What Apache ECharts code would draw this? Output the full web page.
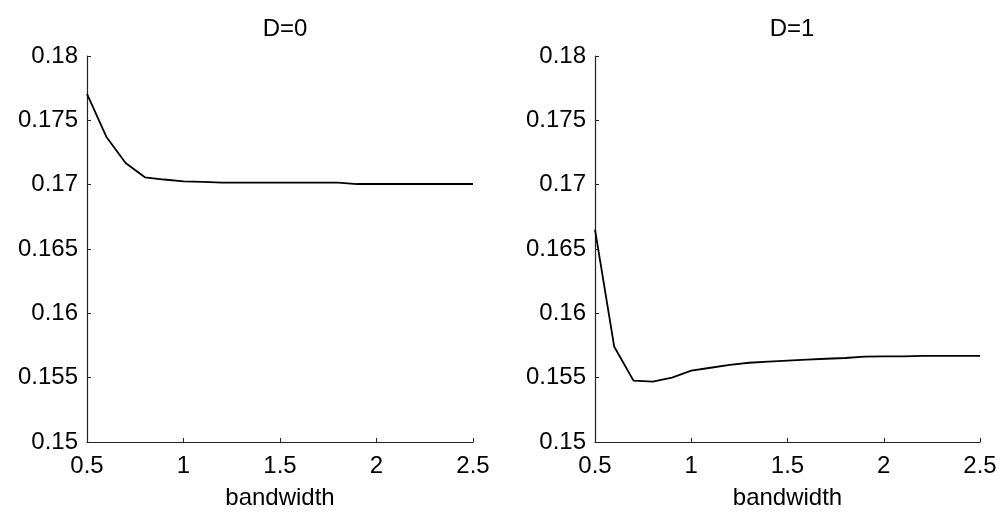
<!DOCTYPE html>
<html>
<head>
<meta charset="utf-8">
<script src="https://cdn.jsdelivr.net/npm/echarts@6/dist/echarts.min.js"></script>
<style>
  html, body { margin: 0; padding: 0; background: #fff; }
  #chart { width: 1002px; height: 512px; }
</style>
</head>
<body>
<div id="chart"></div>
<script>
// bandwidth values on the x axis
var bandwidth = [0.5, 0.6, 0.7, 0.8, 0.9, 1.0, 1.1, 1.2, 1.3, 1.4, 1.5, 1.6, 1.7, 1.8, 1.9, 2.0, 2.1, 2.2, 2.3, 2.4, 2.5];
var errD0 = [0.17705, 0.17373, 0.17169, 0.17057, 0.1704, 0.17026, 0.17021, 0.17016, 0.17016, 0.17016, 0.17016, 0.17016, 0.17016, 0.17016, 0.17005, 0.17005, 0.17005, 0.17005, 0.17005, 0.17005, 0.17005];
var errD1 = [0.1665, 0.1574, 0.15477, 0.1547, 0.155, 0.15554, 0.15577, 0.156, 0.15616, 0.15624, 0.15632, 0.1564, 0.15647, 0.15653, 0.15663, 0.15666, 0.15666, 0.1567, 0.1567, 0.1567, 0.1567];
var titles = ['D=0', 'D=1'];
var xLabel = 'bandwidth';

var font = 'Liberation Sans, Arial, sans-serif';
var fs = 24;

function pairs(ys) {
  return bandwidth.map(function (x, i) { return [x, ys[i]]; });
}

function xAxis(idx) {
  return {
    type: 'value', gridIndex: idx, min: 0.5, max: 2.5, interval: 0.5,
    name: xLabel, nameLocation: 'middle', nameGap: 44,
    nameTextStyle: { color: '#000', fontSize: fs, fontFamily: font },
    axisLine: { lineStyle: { color: '#222', width: 1.2 } },
    axisTick: { inside: true, length: 4, lineStyle: { color: '#222' } },
    axisLabel: { color: '#000', fontSize: fs, fontFamily: font, margin: 12,
      formatter: function (v) { return String(+v.toFixed(1)); } },
    splitLine: { show: false }
  };
}

function yAxis(idx) {
  return {
    type: 'value', gridIndex: idx, min: 0.15, max: 0.18, interval: 0.005,
    axisLine: { show: true, lineStyle: { color: '#222', width: 1.2 } },
    axisTick: { show: true, inside: true, length: 4, lineStyle: { color: '#222' } },
    axisLabel: { color: '#000', fontSize: fs, fontFamily: font, margin: 9,
      formatter: function (v) { return String(+v.toFixed(3)); } },
    splitLine: { show: false }
  };
}

var chart = echarts.init(document.getElementById('chart'));
chart.setOption({
  backgroundColor: '#fff',
  animation: false,
  title: [
    { text: titles[0], left: 280, top: 12, textAlign: 'center',
      textStyle: { color: '#000', fontSize: fs, fontWeight: 'normal', fontFamily: font } },
    { text: titles[1], left: 787, top: 12, textAlign: 'center',
      textStyle: { color: '#000', fontSize: fs, fontWeight: 'normal', fontFamily: font } }
  ],
  grid: [
    { left: 87, top: 56, width: 386, height: 386, outerBoundsMode: 'none' },
    { left: 595, top: 56, width: 385, height: 386, outerBoundsMode: 'none' }
  ],
  xAxis: [xAxis(0), xAxis(1)],
  yAxis: [yAxis(0), yAxis(1)],
  series: [
    { type: 'line', xAxisIndex: 0, yAxisIndex: 0, data: pairs(errD0), symbol: 'none',
      lineStyle: { color: '#000', width: 1.8 } },
    { type: 'line', xAxisIndex: 1, yAxisIndex: 1, data: pairs(errD1), symbol: 'none',
      lineStyle: { color: '#000', width: 1.8 } }
  ]
});
</script>
</body>
</html>
